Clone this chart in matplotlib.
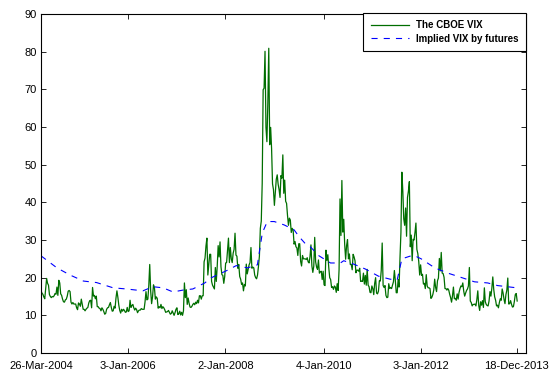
import numpy as np
import pandas as pd
import matplotlib
matplotlib.use("Agg")
import matplotlib.pyplot as plt

plt.rcParams.update({
    "font.family": ["Liberation Sans", "DejaVu Sans"],
    "font.size": 8,
    "axes.linewidth": 0.8,
})

START = pd.Timestamp("2004-03-26")
X_END = pd.Timestamp("2014-02-24")

# weekly CBOE VIX (Friday closes, spikes kept at their daily extremes)
vix_2004 = [16.6, 15.9, 15.6, 14.9, 14.4, 17.2, 19.8, 18.5, 18.0, 15.5,
            15.0, 14.7, 15.0, 14.9, 15.2, 15.8, 15.6, 17.5, 15.3, 19.3,
            18.6, 15.7, 15.3, 14.3, 13.6, 13.5, 14.1, 14.3, 15.1, 16.4,
            16.6, 16.3, 13.5, 13.0, 13.4, 13.0, 13.0, 13.0, 12.0, 11.5, 13.3]
vix_2005 = [13.0, 12.4, 14.3, 13.0, 11.6, 11.6, 11.2, 11.6, 11.9, 12.1,
            13.3, 13.9, 14.0, 12.0, 17.4, 15.1, 15.3, 14.4, 15.1, 12.3,
            12.3, 11.9, 11.8, 11.2, 12.0, 11.6, 11.0, 10.3, 10.5, 11.6,
            12.0, 12.1, 12.8, 13.4, 12.1, 11.1, 11.2, 12.4, 11.9, 14.6,
            16.5, 14.8, 12.7, 11.3, 10.6, 11.6, 11.1, 11.6, 11.3, 10.8,
            10.9, 12.1]
vix_2006 = [11.0, 11.2, 14.0, 12.1, 12.6, 12.9, 12.0, 11.4, 11.9, 11.5,
            10.7, 11.2, 11.4, 11.4, 11.8, 11.6, 11.6, 11.6, 13.6, 16.3,
            14.1, 14.3, 17.9, 23.5, 16.5, 13.1, 14.9, 18.1, 17.4, 14.3,
            14.9, 14.5, 11.9, 12.3, 12.0, 12.9, 11.8, 12.3, 12.0, 11.5,
            10.8, 10.9, 11.0, 11.3, 10.8, 10.3, 10.5, 11.2, 10.6, 10.0,
            10.7, 11.6]
vix_2007 = [12.0, 10.2, 10.4, 11.1, 10.1, 10.8, 10.0, 11.2, 18.6, 14.7,
            16.8, 12.9, 14.6, 13.2, 12.2, 12.1, 12.4, 12.9, 13.2, 12.8,
            13.5, 13.1, 14.0, 13.3, 15.2, 15.2, 14.3, 15.2, 15.2, 24.2,
            25.2, 28.4, 30.5, 20.7, 23.4, 26.2, 26.2, 19.0, 18.0, 17.5,
            17.0, 22.7, 19.0, 23.0, 28.5, 25.5, 29.5, 22.9, 20.8, 20.6,
            18.5, 20.3]
vix_2008 = [23.9, 24.0, 27.2, 30.5, 24.0, 28.0, 25.0, 24.0, 26.5, 27.5,
            31.8, 26.0, 25.7, 22.5, 23.5, 20.3, 19.6, 18.2, 18.6, 16.5,
            18.2, 17.8, 23.6, 21.0, 22.2, 23.4, 24.0, 28.0, 22.5, 22.8,
            22.6, 20.7, 20.0, 19.7, 20.7, 23.0, 25.7, 33.1, 35.0, 45.1,
            69.9, 70.3, 80.1, 59.9, 56.1, 66.3, 80.9, 55.3, 59.9, 54.3,
            44.9, 43.4]
vix_2009 = [39.2, 42.8, 46.1, 47.3, 44.8, 43.4, 41.3, 47.1, 46.4, 52.6,
            42.4, 45.9, 40.3, 39.7, 36.5, 33.9, 35.8, 35.3, 32.0, 33.1,
            32.6, 28.9, 29.6, 28.2, 27.9, 25.9, 29.0, 29.0, 24.3, 23.1,
            25.9, 25.0, 25.0, 25.0, 24.8, 25.3, 24.2, 23.9, 25.6, 28.7,
            23.1, 21.4, 23.0, 30.7, 24.2, 22.8, 22.2, 24.7, 21.2, 21.6,
            21.7, 19.5]
vix_2010 = [21.7, 18.1, 17.9, 27.3, 24.6, 26.1, 22.7, 20.0, 19.5, 17.4,
            17.6, 16.9, 17.8, 17.5, 16.1, 18.4, 16.6, 22.1, 40.9, 31.2,
            45.8, 32.1, 35.5, 28.8, 24.9, 28.5, 30.1, 25.0, 26.3, 23.5,
            23.5, 22.1, 26.2, 25.5, 24.5, 21.3, 22.0, 22.0, 21.7, 22.5,
            19.0, 19.1, 19.0, 21.2, 18.3, 20.6, 18.0, 22.2, 18.0, 17.6,
            16.1, 16.0, 17.8]
vix_2011 = [17.1, 15.5, 18.5, 20.0, 15.9, 15.7, 16.4, 19.2, 19.1, 21.9,
            29.2, 17.9, 17.4, 17.9, 15.3, 14.7, 14.8, 18.4, 17.1, 17.4,
            17.1, 18.0, 18.9, 21.9, 19.3, 16.0, 16.0, 19.5, 17.5, 25.3,
            32.0, 48.0, 43.0, 35.6, 33.9, 38.5, 31.0, 41.3, 43.0, 45.5,
            28.2, 31.3, 24.5, 30.2, 30.0, 32.0, 34.5, 27.5, 26.4, 24.3,
            20.7, 23.4]
vix_2012 = [20.6, 20.9, 18.3, 18.5, 17.1, 20.8, 17.8, 17.3, 17.3, 17.1,
            14.5, 14.8, 15.5, 16.7, 19.6, 17.4, 16.3, 19.2, 19.9, 25.1,
            21.8, 26.7, 21.2, 21.1, 20.1, 17.1, 17.1, 16.7, 17.1, 16.7,
            15.6, 14.7, 13.5, 15.2, 17.5, 14.4, 14.5, 14.0, 15.7, 14.3,
            16.1, 17.1, 17.8, 17.6, 18.6, 16.4, 15.1, 15.9, 16.6, 17.0,
            17.8, 22.7]
vix_2013 = [13.8, 13.4, 12.5, 12.9, 12.9, 13.0, 12.5, 14.2, 16.5, 12.6,
            11.3, 13.6, 12.7, 13.9, 12.1, 17.3, 13.6, 12.9, 12.6, 12.5,
            13.8, 16.3, 15.1, 17.2, 20.2, 16.9, 14.9, 14.0, 12.5, 12.7,
            12.0, 13.4, 14.4, 14.0, 17.0, 15.9, 14.2, 13.1, 15.5, 16.7,
            19.9, 13.0, 13.1, 13.9, 12.9, 12.2, 12.3, 13.7, 15.5, 15.8,
            13.8]
first_fridays = ["2004-03-26", "2005-01-07", "2006-01-06", "2007-01-05",
                 "2008-01-04", "2009-01-02", "2010-01-01", "2011-01-07",
                 "2012-01-06", "2013-01-04"]

# implied VIX from futures (days after 26-Mar-2004, level)
implied_days = [0, 119, 217, 317, 415, 539, 638, 761, 835, 912,
                986, 1060, 1134, 1223, 1273, 1334, 1394, 1458, 1542, 1616,
                1653, 1690, 1742, 1816, 1890, 1927, 1977, 2014, 2076, 2162,
                2236, 2261, 2335, 2422, 2520, 2607, 2660, 2695, 2755, 2792,
                2839, 2941, 3039, 3126, 3237, 3336, 3410, 3554]
implied_vix = [25.8, 22.6, 20.7, 19.1, 18.7, 17.3, 17.0, 16.5, 17.6, 17.3,
               16.2, 16.7, 17.0, 18.6, 20.0, 21.0, 22.0, 23.2, 22.6, 23.4,
               31.9, 34.9, 34.9, 34.0, 32.7, 30.9, 28.9, 28.1, 25.8, 23.9,
               23.9, 24.5, 23.6, 22.3, 20.4, 19.6, 19.4, 25.0, 25.7, 25.8,
               25.0, 22.6, 21.2, 20.2, 18.9, 18.6, 17.9, 17.3]

tick_dates = ["2004-03-26", "2006-01-03", "2008-01-02", "2010-01-04",
              "2012-01-03", "2013-12-18"]
tick_labels = ["26-Mar-2004", "3-Jan-2006", "2-Jan-2008", "4-Jan-2010",
               "3-Jan-2012", "18-Dec-2013"]


def build_vix():
    years = [vix_2004, vix_2005, vix_2006, vix_2007, vix_2008,
             vix_2009, vix_2010, vix_2011, vix_2012, vix_2013]
    dates, vals = [], []
    for start, arr in zip(first_fridays, years):
        dates.extend(pd.date_range(start, periods=len(arr), freq="7D"))
        vals.extend(arr)
    return pd.Series(vals, index=pd.DatetimeIndex(dates))


def main():
    vix = build_vix()
    implied_dates = START + pd.to_timedelta(implied_days, unit="D")

    fig = plt.figure(figsize=(5.53, 3.74), dpi=100)
    ax = fig.add_axes([41 / 553, 21 / 374, 485 / 553, 339 / 374])

    ax.plot(vix.index, vix.values, color="#006e00", lw=0.9,
            label="The CBOE VIX")
    ax.plot(implied_dates, implied_vix, color="#0000ff", lw=0.8,
            dashes=(5.5, 5.5), label="Implied VIX by futures")

    ax.set_xlim(START, X_END)
    ax.set_ylim(0, 90)
    ax.set_yticks(np.arange(0, 91, 10))
    ax.set_xticks(pd.to_datetime(tick_dates))
    ax.set_xticklabels(tick_labels)
    ax.tick_params(direction="in", length=3.5, width=0.6,
                   top=True, right=True, labelsize=8)
    ax.tick_params(axis="x", pad=5.5)
    ax.tick_params(axis="y", pad=3)

    fig.legend(loc="upper right", bbox_to_anchor=(526 / 553, 1 - 13 / 374),
               bbox_transform=fig.transFigure, borderaxespad=0,
               fancybox=False, edgecolor="black", framealpha=1,
               prop={"weight": "bold", "size": 7},
               handlelength=4.0, handletextpad=0.7, labelspacing=0.35,
               borderpad=0.75)
    fig.legends[0].get_frame().set_linewidth(0.8)

    fig.savefig("out.png", dpi=100)
    plt.close(fig)


if __name__ == "__main__":
    main()
